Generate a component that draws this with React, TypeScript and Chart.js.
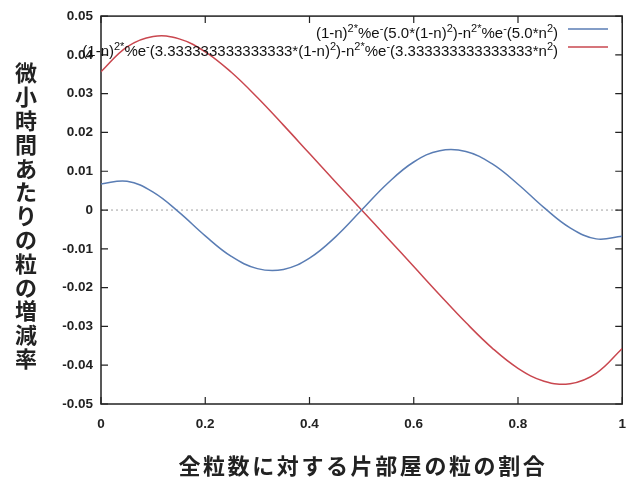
import React, { useEffect, useRef } from "react";
import { Chart, registerables } from "chart.js";

Chart.register(...registerables);

const xValues = [0, 0.05, 0.1, 0.15, 0.2, 0.25, 0.3, 0.35, 0.4, 0.45, 0.5, 0.55, 0.6, 0.65, 0.7, 0.75, 0.8, 0.85, 0.9, 0.95, 1];
const blueValues = [0.006738, 0.007432, 0.0046, -0.000611, -0.006661, -0.011946, -0.015103, -0.015302, -0.012385, -0.006906, 0, 0.006906, 0.012385, 0.015302, 0.015103, 0.011946, 0.006661, 0.000611, -0.0046, -0.007432, -0.006738];
const redValues = [0.035674, 0.042081, 0.044765, 0.044123, 0.040796, 0.035516, 0.029014, 0.021893, 0.014567, 0.007254, 0, -0.007254, -0.014567, -0.021893, -0.029014, -0.035516, -0.040796, -0.044123, -0.044765, -0.042081, -0.035674];
const blueLabel = "(1-n)^{2*}%e^{-}(5.0*(1-n)^{2})-n^{2*}%e^{-}(5.0*n^{2})";
const redLabel = "(1-n)^{2*}%e^{-}(3.333333333333333*(1-n)^{2})-n^{2*}%e^{-}(3.333333333333333*n^{2})";
const yTitle = "微小時間あたりの粒の増減率";
const xTitle = "全粒数に対する片部屋の粒の割合";
const xTicks = [0, 0.2, 0.4, 0.6, 0.8, 1];
const yTicks = [-0.05, -0.04, -0.03, -0.02, -0.01, 0, 0.01, 0.02, 0.03, 0.04, 0.05];

const BLUE = "#5a7db4";
const RED = "#c9474f";
const FONT = "'Liberation Sans', Arial, sans-serif";
const CJK = "'Noto Sans CJK JP', sans-serif";

function parseSegments(s: string) {
  const out: { t: string; sup: boolean }[] = [];
  let i = 0;
  let buf = "";
  while (i < s.length) {
    if (s[i] === "^" && s[i + 1] === "{") {
      if (buf) out.push({ t: buf, sup: false });
      buf = "";
      const end = s.indexOf("}", i);
      out.push({ t: s.slice(i + 2, end), sup: true });
      i = end + 1;
    } else {
      buf += s[i];
      i++;
    }
  }
  if (buf) out.push({ t: buf, sup: false });
  return out;
}

const framePlugin = {
  id: "frame",
  beforeDatasetsDraw(chart: any) {
    const { ctx, chartArea: a, scales } = chart;
    const x = scales.x;
    const y = scales.y;
    ctx.save();
    const y0 = y.getPixelForValue(0);
    ctx.strokeStyle = "#a0a0a0";
    ctx.lineWidth = 1;
    ctx.setLineDash([2, 3]);
    ctx.beginPath();
    ctx.moveTo(a.left, y0);
    ctx.lineTo(a.right, y0);
    ctx.stroke();
    ctx.setLineDash([]);
    ctx.strokeStyle = "#222";
    ctx.lineWidth = 1.5;
    ctx.strokeRect(a.left, a.top, a.right - a.left, a.bottom - a.top);
    const tl = 7;
    ctx.lineWidth = 1.2;
    ctx.beginPath();
    xTicks.forEach((v) => {
      const px = x.getPixelForValue(v);
      ctx.moveTo(px, a.bottom);
      ctx.lineTo(px, a.bottom - tl);
      ctx.moveTo(px, a.top);
      ctx.lineTo(px, a.top + tl);
    });
    yTicks.forEach((v) => {
      const py = y.getPixelForValue(v);
      ctx.moveTo(a.left, py);
      ctx.lineTo(a.left + tl, py);
      ctx.moveTo(a.right, py);
      ctx.lineTo(a.right - tl, py);
    });
    ctx.stroke();
    ctx.restore();
  },
  afterDraw(chart: any) {
    const { ctx, chartArea: a, data } = chart;
    ctx.save();
    const rows = [
      { label: blueLabel, color: data.datasets[0].borderColor, y: 29 },
      { label: redLabel, color: data.datasets[1].borderColor, y: 47 },
    ];
    const textRight = 558;
    const mainFont = "15px " + FONT;
    const supFont = "11px " + FONT;
    rows.forEach((r) => {
      const segs = parseSegments(r.label);
      let w = 0;
      segs.forEach((s) => {
        ctx.font = s.sup ? supFont : mainFont;
        w += ctx.measureText(s.t).width;
      });
      let cx = textRight - w;
      ctx.fillStyle = "#111";
      ctx.textBaseline = "alphabetic";
      ctx.textAlign = "left";
      segs.forEach((s) => {
        ctx.font = s.sup ? supFont : mainFont;
        ctx.fillText(s.t, cx, r.y + 9 - (s.sup ? 6 : 0));
        cx += ctx.measureText(s.t).width;
      });
      ctx.strokeStyle = r.color;
      ctx.lineWidth = 1.5;
      ctx.beginPath();
      ctx.moveTo(568, r.y);
      ctx.lineTo(608, r.y);
      ctx.stroke();
    });
    ctx.fillStyle = "#222";
    ctx.font = "bold 22px " + CJK;
    ctx.textAlign = "center";
    ctx.textBaseline = "middle";
    Array.from(yTitle).forEach((c, i) => {
      ctx.fillText(c, 26, 73 + i * 23.8);
    });
    const xc = Array.from(xTitle);
    const step = 24.6;
    const startX = (a.left + a.right) / 2 - ((xc.length - 1) * step) / 2;
    xc.forEach((c, i) => {
      ctx.fillText(c, startX + i * step, 466);
    });
    ctx.restore();
  },
};

export default function App() {
  const ref = useRef<HTMLCanvasElement>(null);
  useEffect(() => {
    if (!ref.current) return;
    const chart = new Chart(ref.current, {
      type: "line",
      data: {
        datasets: [
          {
            label: blueLabel,
            data: xValues.map((x, i) => ({ x, y: blueValues[i] })),
            borderColor: BLUE,
            borderWidth: 1.5,
            pointRadius: 0,
            tension: 0.4,
            fill: false,
          },
          {
            label: redLabel,
            data: xValues.map((x, i) => ({ x, y: redValues[i] })),
            borderColor: RED,
            borderWidth: 1.5,
            pointRadius: 0,
            tension: 0.4,
            fill: false,
          },
        ],
      },
      options: {
        responsive: false,
        animation: false,
        layout: { padding: { left: 0, right: 10, top: 14, bottom: 0 } },
        plugins: { legend: { display: false }, tooltip: { enabled: false } },
        scales: {
          x: {
            type: "linear",
            min: 0,
            max: 1,
            afterBuildTicks: (s: any) => {
              s.ticks = xTicks.map((v) => ({ value: v }));
            },
            afterFit: (s: any) => {
              s.height = 76;
            },
            grid: { display: false, drawTicks: false },
            border: { display: false },
            ticks: {
              padding: 12,
              color: "#222",
              font: { family: FONT, size: 13.5, weight: "bold" },
              callback: (v: any) => String(Number(Number(v).toFixed(1))),
            },
          },
          y: {
            type: "linear",
            min: -0.05,
            max: 0.05,
            afterBuildTicks: (s: any) => {
              s.ticks = yTicks.map((v) => ({ value: v }));
            },
            afterFit: (s: any) => {
              s.width = 101;
            },
            grid: { display: false, drawTicks: false },
            border: { display: false },
            ticks: {
              padding: 8,
              color: "#222",
              font: { family: FONT, size: 13.5, weight: "bold" },
              callback: (v: any) => String(Number(Number(v).toFixed(2))),
            },
          },
        },
      },
      plugins: [framePlugin],
    });
    return () => chart.destroy();
  }, []);
  return (
    <div style={{ position: "absolute", left: 0, top: 0, width: 638, height: 480, background: "#fff" }}>
      <canvas ref={ref} width={638} height={480} />
    </div>
  );
}
